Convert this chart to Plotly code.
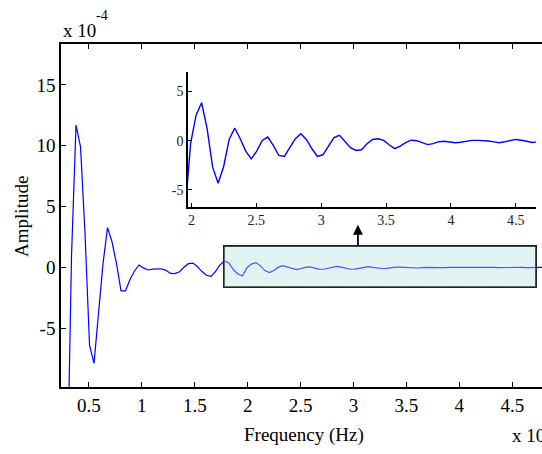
import plotly.graph_objects as go

# Frequency bins (x 10^4 Hz)
freq = [
    0.293, 0.3355, 0.378, 0.4205, 0.463, 0.5055, 0.548, 0.5905, 0.633, 0.6755,
    0.718, 0.7605, 0.803, 0.8455, 0.888, 0.9305, 0.973, 1.0155, 1.058, 1.1005,
    1.143, 1.1855, 1.228, 1.2705, 1.313, 1.3555, 1.398, 1.4405, 1.483, 1.5255,
    1.568, 1.6105, 1.653, 1.6955, 1.738, 1.7805, 1.823, 1.8655, 1.908, 1.9505,
    1.993, 2.0355, 2.078, 2.1205, 2.163, 2.2055, 2.248, 2.2905, 2.333, 2.3755,
    2.418, 2.4605, 2.503, 2.5455, 2.588, 2.6305, 2.673, 2.7155, 2.758, 2.8005,
    2.843, 2.8855, 2.928, 2.9705, 3.013, 3.0555, 3.098, 3.1405, 3.183, 3.2255,
    3.268, 3.3105, 3.353, 3.3955, 3.438, 3.4805, 3.523, 3.5655, 3.608, 3.6505,
    3.693, 3.7355, 3.778, 3.8205, 3.863, 3.9055, 3.948, 3.9905, 4.033, 4.0755,
    4.118, 4.1605, 4.203, 4.2455, 4.288, 4.3305, 4.373, 4.4155, 4.458, 4.5005,
    4.543, 4.5855, 4.628, 4.6705, 4.713, 4.7555, 4.798,
]

# Amplitude (x 10^-4)
amplitude = [
    -19.0, 1.0, 11.7, 9.9, 2.8, -6.4, -7.9, -4.05, 0.3, 3.26,
    2.1, 0.3, -1.93, -1.93, -1.0, -0.3, 0.19, -0.05, -0.22, -0.15,
    -0.12, -0.12, -0.25, -0.5, -0.52, -0.36, 0.0, 0.3, 0.35, 0.05,
    -0.35, -0.65, -0.75, -0.36, 0.2, 0.52, 0.35, -0.2, -0.55, -0.72,
    -0.03, 0.26, 0.386, 0.122, -0.269, -0.432, -0.262, 0.013, 0.129, 0.02,
    -0.106, -0.184, -0.106, 0.003, 0.037, -0.048, -0.15, -0.16, -0.071, 0.02,
    0.071, 0.013, -0.082, -0.16, -0.143, -0.058, 0.031, 0.054, -0.004, -0.071,
    -0.099, -0.092, -0.031, 0.013, 0.02, 0.003, -0.041, -0.08, -0.055, -0.02,
    0.005, 0.0, -0.02, -0.04, -0.03, -0.01, -0.005, -0.012, -0.02, -0.015,
    -0.003, 0.003, 0.003, 0.003, -0.003, -0.012, -0.02, -0.01, 0.005, 0.013,
    0.005, -0.008, -0.018, -0.012, -0.002, 0.003, 0.0,
]

# Inset shows the same series in units of 10^-5
inset_amplitude = [a * 10 for a in amplitude]

main_xticks = [0.5, 1, 1.5, 2, 2.5, 3, 3.5, 4, 4.5]
main_xticktext = ["0.5", "1", "1.5", "2", "2.5", "3", "3.5", "4", "4.5"]
main_yticks = [-5, 0, 5, 10, 15]
main_yticktext = ["-5", "0", "5", "10", "15"]
inset_xticks = [2, 2.5, 3, 3.5, 4, 4.5]
inset_xticktext = ["2", "2.5", "3", "3.5", "4", "4.5"]
inset_yticks = [-5, 0, 5]
inset_yticktext = ["-5", "0", "5"]

# Zoom window (highlighted region) and arrow
zoom_x0, zoom_x1 = 1.776, 4.721
zoom_y0, zoom_y1 = -1.62, 1.72
arrow_x, arrow_tip_y = 3.042, 3.5

FONT = "Liberation Serif, Times New Roman, serif"
BLUE = "#0000ff"

fig = go.Figure()

# Highlighted zoom region (patterned rectangle)
fig.add_trace(go.Bar(
    x=[(zoom_x0 + zoom_x1) / 2], y=[zoom_y1 - zoom_y0], base=[zoom_y0],
    width=[zoom_x1 - zoom_x0],
    marker=dict(color="#e3f4f4", line=dict(color="#222222", width=2),
                pattern=dict(shape="+", fgcolor="#c4e2e2", size=10, solidity=0.12)),
    xaxis="x", yaxis="y", hoverinfo="skip", showlegend=False,
))

fig.add_trace(go.Scatter(
    x=freq, y=amplitude, mode="lines",
    line=dict(color=BLUE, width=1.2),
    xaxis="x", yaxis="y", showlegend=False,
))

fig.add_trace(go.Scatter(
    x=freq, y=inset_amplitude, mode="lines",
    line=dict(color=BLUE, width=1.4),
    xaxis="x2", yaxis="y2", showlegend=False,
))

# light wash over the line inside the zoom box
fig.add_shape(type="rect", xref="x", yref="y",
              x0=zoom_x0, x1=zoom_x1, y0=zoom_y0, y1=zoom_y1,
              fillcolor="rgba(225,244,244,0.35)", line=dict(width=0), layer="above")

axis_common = dict(showgrid=False, zeroline=False, showline=True,
                   linecolor="black", ticks="inside", tickcolor="black")

fig.update_layout(
    width=542, height=454,
    margin=dict(l=61, r=0, t=44, b=67),
    paper_bgcolor="white", plot_bgcolor="white",
    bargap=0,
    xaxis=dict(domain=[0, 1], range=[0.236, 4.781], tickvals=main_xticks,
               ticktext=main_xticktext, ticklen=5, linewidth=1.5, tickwidth=1,
               mirror="ticks",
               tickfont=dict(family=FONT, size=19, color="black"), **axis_common),
    yaxis=dict(domain=[0, 1], range=[-9.84, 18.36], tickvals=main_yticks,
               ticktext=main_yticktext, ticklen=5, linewidth=1.5, tickwidth=1,
               tickfont=dict(family=FONT, size=19, color="black"), **axis_common),
    xaxis2=dict(domain=[0.264, 0.9875], anchor="y2", range=[1.973, 4.655],
                tickvals=inset_xticks, ticktext=inset_xticktext, ticklen=4,
                linewidth=1.5, tickwidth=1,
                tickfont=dict(family=FONT, size=14, color="#222"), **axis_common),
    yaxis2=dict(domain=[0.5257, 0.919], anchor="x2", range=[-6.7, 7.0],
                tickvals=inset_yticks, ticktext=inset_yticktext, ticklen=4,
                linewidth=1.5, tickwidth=1,
                tickfont=dict(family=FONT, size=14, color="#222"), **axis_common),
    annotations=[
        dict(x=arrow_x, y=arrow_tip_y, ax=arrow_x, ay=zoom_y1, xref="x", yref="y",
             axref="x", ayref="y", text="", showarrow=True, arrowhead=2,
             arrowsize=1.1, arrowwidth=1.8, arrowcolor="black"),
        dict(x=0.505, y=-0.14, xref="paper", yref="paper", text="Frequency (Hz)",
             showarrow=False, font=dict(family=FONT, size=19, color="black"),
             xanchor="center", yanchor="middle"),
        dict(x=-0.081, y=0.496, xref="paper", yref="paper", text="Amplitude",
             textangle=-90, showarrow=False,
             font=dict(family=FONT, size=19, color="black"),
             xanchor="center", yanchor="middle"),
        dict(x=0.0, y=1.0408, xref="paper", yref="paper", text="x 10",
             showarrow=False, font=dict(family=FONT, size=19, color="black"),
             xanchor="left", yanchor="middle"),
        dict(x=0.0686, y=1.0845, xref="paper", yref="paper", text="-4",
             showarrow=False, font=dict(family=FONT, size=14, color="black"),
             xanchor="left", yanchor="middle"),
        dict(x=0.934, y=-0.178, xref="paper", yref="paper", text="x 10<sup>4</sup>",
             showarrow=False, font=dict(family=FONT, size=19, color="black"),
             xanchor="left", yanchor="bottom"),
    ],
)

fig.write_html("out.html")
